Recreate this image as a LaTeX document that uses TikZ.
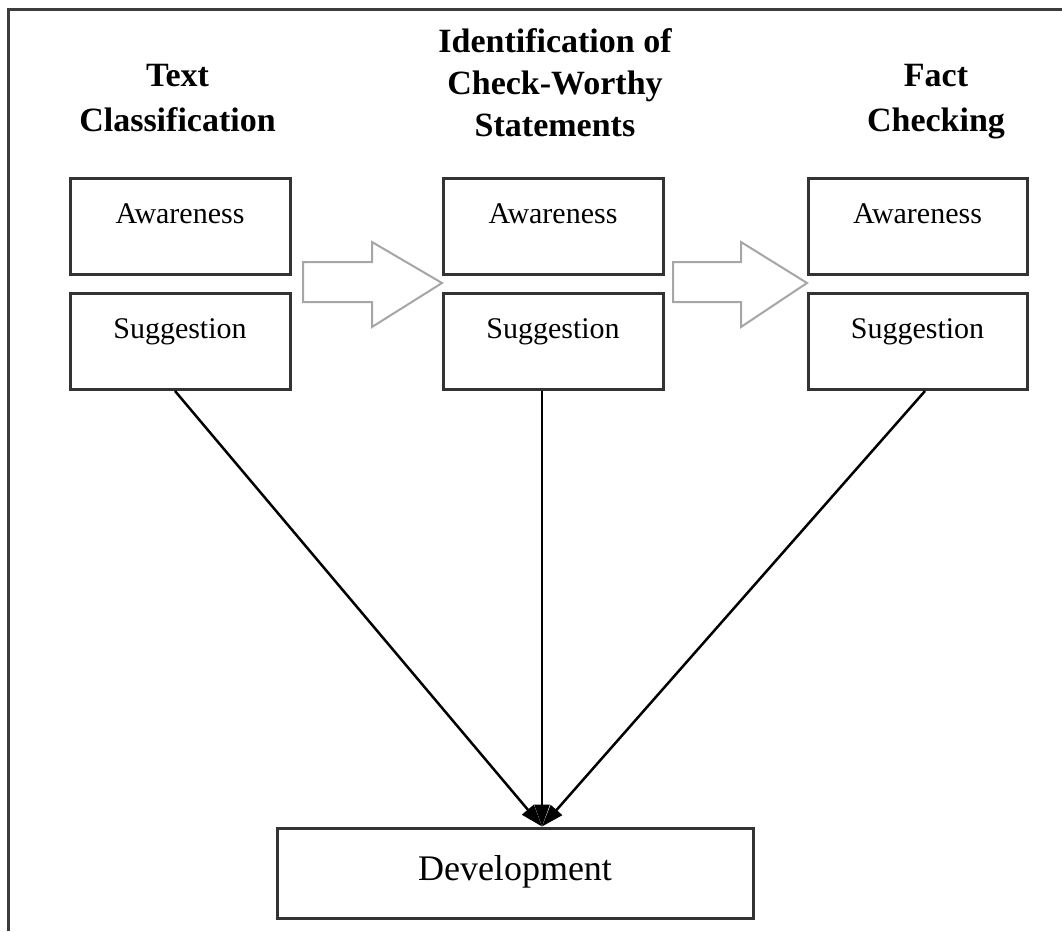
\documentclass[tikz,border=0pt]{standalone}
\usepackage{fontspec}
\setmainfont{Liberation Serif}
\usepackage{tikz}
\usetikzlibrary{positioning, arrows.meta, calc}
\definecolor{boxB}{HTML}{333333}
\definecolor{hollowB}{HTML}{a6a6a6}
\definecolor{frameB}{HTML}{3c3c3c}
\begin{document}
\begin{tikzpicture}[x=1pt,y=-1pt,stage/.style={draw=boxB, line width=3pt, inner sep=0pt, align=center, text width=220pt, text height=45pt, text depth=51pt, font=\fontsize{30}{36}\selectfont},ttl/.style={anchor=south, inner sep=0pt, align=center, text depth=0pt, font=\fontsize{34}{45}\selectfont\bfseries},conn/.style={line width=2.5pt, -{Triangle[length=22pt, width=15pt]}}]
\useasboundingbox (0,0) rectangle (1062,931);
\draw[frameB, line width=3pt] (8,931) -- (8,10) -- (1062,10);
% three stages
\node[stage] (tcAw) at (180,226.5) {Awareness};
\node[stage, below=16pt of tcAw] (tcSug) {Suggestion};
\node[stage] (cwAw) at (553,226.5) {Awareness};
\node[stage, below=16pt of cwAw] (cwSug) {Suggestion};
\node[stage, text width=219pt] (fcAw) at (917.5,226.5) {Awareness};
\node[stage, text width=219pt, below=16pt of fcAw] (fcSug) {Suggestion};
\node[ttl] (tcT) at (177.5,132) {Text\\Classification};
\node[ttl, font=\fontsize{34}{42}\selectfont\bfseries] (cwT) at (555,137) {Identification of\\Check-Worthy\\Statements};
\node[ttl] (fcT) at (936,132) {Fact\\Checking};
\node[stage, text width=476pt, text height=52pt, text depth=38pt, font=\fontsize{36}{42}\selectfont] (dev) at (515,873) {Development};
% hollow arrows between stages
\foreach \xs/\xh/\xt in {303/372/442, 673/741/807}
  \draw[hollowB, line width=2pt, line join=miter] (\xs,262) -- (\xh,262) -- (\xh,242) -- (\xt,283) -- (\xh,327) -- (\xh,302) -- (\xs,302) -- cycle;
\coordinate (meet) at ([xshift=27pt]dev.north);
\draw[conn] ([xshift=-5pt]tcSug.south) -- (meet);
\draw[conn] ([xshift=-11pt]cwSug.south) -- (meet);
\draw[conn] ([xshift=7.5pt]fcSug.south) -- (meet);
\end{tikzpicture}
\end{document}
